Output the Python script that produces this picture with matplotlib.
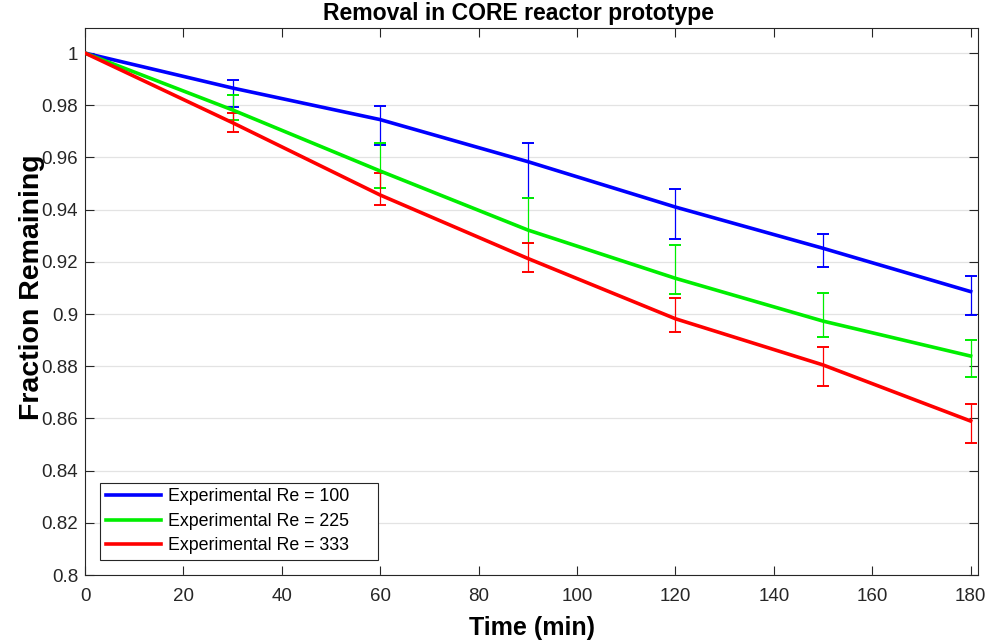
import matplotlib
matplotlib.use("Agg")
import matplotlib.pyplot as plt
import numpy as np

plt.rcParams["font.family"] = ["Liberation Sans", "DejaVu Sans"]

# model curves
time_min = [0, 30, 60, 90, 120, 150, 180]
frac_re100 = [1.0, 0.9866, 0.9745, 0.9584, 0.9410, 0.9252, 0.9086]
frac_re225 = [1.0, 0.9782, 0.9548, 0.9322, 0.9137, 0.8973, 0.8839]
frac_re333 = [1.0, 0.9733, 0.9456, 0.9213, 0.8982, 0.8805, 0.8590]

# experimental ranges (low, high)
exp_time = [30, 60, 90, 120, 150, 180]
low_re100 = [0.9794, 0.9648, 0.9443, 0.9286, 0.9179, 0.8996]
high_re100 = [0.9897, 0.9797, 0.9656, 0.9478, 0.9307, 0.9146]
low_re225 = [0.9743, 0.9482, 0.9271, 0.9077, 0.8913, 0.8760]
high_re225 = [0.9839, 0.9656, 0.9443, 0.9264, 0.9079, 0.8900]
low_re333 = [0.9699, 0.9418, 0.9162, 0.8930, 0.8724, 0.8507]
high_re333 = [0.9771, 0.9539, 0.9271, 0.9062, 0.8872, 0.8655]

labels = ["Experimental Re = 100", "Experimental Re = 225", "Experimental Re = 333"]
colors = ["#0000ff", "#00ee00", "#ff0000"]

fig = plt.figure(figsize=(9.85, 6.44), dpi=100)
ax = fig.add_axes([0.0863, 0.1071, 0.9066, 0.8494])

series = [
    (frac_re100, low_re100, high_re100),
    (frac_re225, low_re225, high_re225),
    (frac_re333, low_re333, high_re333),
]
for (frac, lo, hi), label, color in zip(series, labels, colors):
    lo = np.array(lo)
    hi = np.array(hi)
    mid = (lo + hi) / 2
    ax.errorbar(exp_time, mid, yerr=(hi - lo) / 2, fmt="none", ecolor=color,
                elinewidth=0.9, capsize=4.6, capthick=1.4, zorder=2)
    ax.plot(time_min, frac, color=color, lw=2.6, label=label, zorder=3)

ax.set_xlim(0, 181.5)
ax.set_ylim(0.8, 1.0096)
ax.set_xticks(np.arange(0, 181, 20))
ax.set_yticks(np.arange(0.8, 1.001, 0.02))
ax.set_yticklabels(["0.8", "0.82", "0.84", "0.86", "0.88", "0.9",
                    "0.92", "0.94", "0.96", "0.98", "1"])
ax.grid(axis="y", color="#e3e3e3", lw=0.9)
ax.set_axisbelow(True)

ax.tick_params(direction="in", length=6.5, width=0.8, top=True, right=True,
               labelsize=13.5, colors="#262626", pad=5)
ax.tick_params(axis="x", pad=9)
for sp in ax.spines.values():
    sp.set_color("#262626")
    sp.set_linewidth(0.8)

ax.set_title("Removal in CORE reactor prototype", fontsize=16.6,
             fontweight="bold", pad=6, x=0.485)
ax.set_xlabel("Time (min)", fontsize=18, fontweight="bold")
ax.set_ylabel("Fraction Remaining", fontsize=20.5, fontweight="bold")
ax.xaxis.set_label_coords(0.5, -0.075)
ax.yaxis.set_label_coords(-0.045, 0.527)

leg = ax.legend(loc="lower left", fontsize=12.8, handlelength=3.1,
                handletextpad=0.4, labelspacing=0.42, borderpad=0.32,
                borderaxespad=0, fancybox=False, framealpha=1, mode="expand",
                bbox_to_anchor=(0.0168, 0.0274, 0.3113, 0.2))
leg.get_frame().set_edgecolor("#262626")
leg.get_frame().set_linewidth(0.8)

fig.savefig("out.png", dpi=100, facecolor="white")
